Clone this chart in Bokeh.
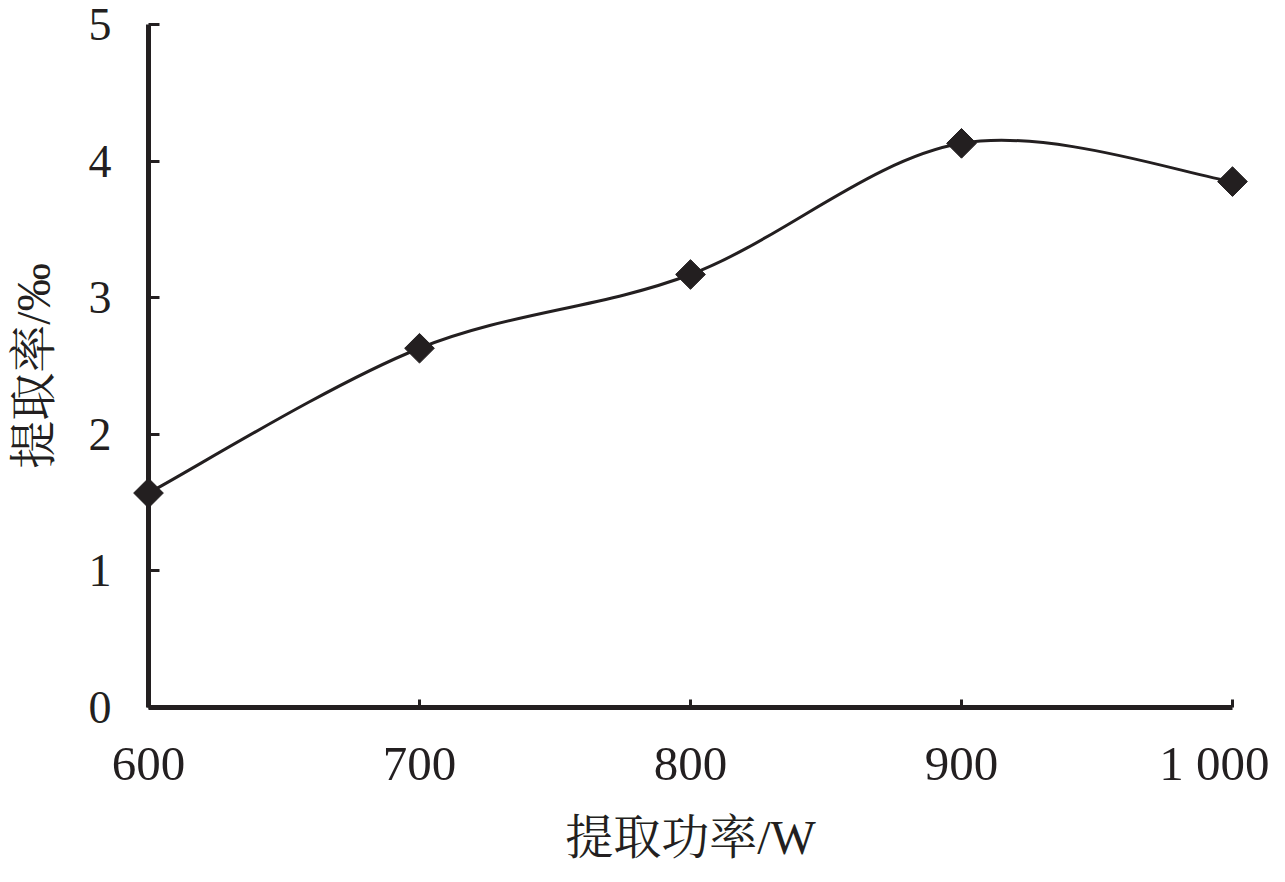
import numpy as np
from bokeh.plotting import figure
from bokeh.models import Range1d, FixedTicker, ColumnDataSource
from bokeh.embed import file_html
from bokeh.resources import INLINE

power = [600, 700, 800, 900, 1000]
rate = [1.57, 2.63, 3.17, 4.13, 3.85]
x_tick_labels = {600: "600", 700: "700", 800: "800", 900: "900", 1000: "1 000"}
y_ticks = [0, 1, 2, 3, 4, 5]

SERIF = "Liberation Serif, 'Times New Roman', 'Noto Serif CJK SC', 'Noto Sans CJK SC', serif"

p = figure(width=1269, height=866, output_backend="svg", toolbar_location=None,
           x_range=Range1d(600, 1000), y_range=Range1d(0, 5),
           min_border_left=148, min_border_right=37, min_border_top=24, min_border_bottom=159)
p.outline_line_color = None
p.grid.visible = False
p.background_fill_color = "white"
p.border_fill_color = "white"

# Catmull-Rom (smooth line) segments computed from the data points
px = np.array(power, dtype=float)
py = np.array(rate, dtype=float)
n = len(px)
x0s, y0s, x1s, y1s, cx0s, cy0s, cx1s, cy1s = [], [], [], [], [], [], [], []
for i in range(n - 1):
    p0 = (px[max(i - 1, 0)], py[max(i - 1, 0)])
    p1 = (px[i], py[i])
    p2 = (px[i + 1], py[i + 1])
    p3 = (px[min(i + 2, n - 1)], py[min(i + 2, n - 1)])
    x0s.append(p1[0]); y0s.append(p1[1])
    x1s.append(p2[0]); y1s.append(p2[1])
    cx0s.append(p1[0] + (p2[0] - p0[0]) / 6); cy0s.append(p1[1] + (p2[1] - p0[1]) / 6)
    cx1s.append(p2[0] - (p3[0] - p1[0]) / 6); cy1s.append(p2[1] - (p3[1] - p1[1]) / 6)
seg = ColumnDataSource(dict(x0=x0s, y0=y0s, x1=x1s, y1=y1s, cx0=cx0s, cy0=cy0s, cx1=cx1s, cy1=cy1s))
p.bezier("x0", "y0", "x1", "y1", "cx0", "cy0", "cx1", "cy1", source=seg,
         line_color="#231f20", line_width=3)

pts = ColumnDataSource(dict(x=power, y=rate))
r = p.scatter("x", "y", source=pts, marker="square", angle=np.pi / 4, size=21,
              fill_color="#231f20", line_color="#231f20", level="overlay")

for ax in (p.xaxis[0], p.yaxis[0]):
    ax.axis_line_width = 5
    ax.axis_line_color = "#231f20"
    ax.major_tick_line_width = 3
    ax.major_tick_line_color = "#231f20"
    ax.minor_tick_line_color = None
    ax.major_tick_out = 0
    ax.major_label_text_font = SERIF
    ax.major_label_text_color = "#231f20"
    ax.axis_label_text_font = SERIF
    ax.axis_label_text_font_size = "48px"
    ax.axis_label_text_font_style = "normal"
    ax.axis_label_text_color = "#231f20"

p.xaxis.major_label_text_font_size = "49px"
p.yaxis.major_label_text_font_size = "46px"

p.xaxis.ticker = FixedTicker(ticks=power)
p.xaxis.major_label_overrides = x_tick_labels
p.xaxis.major_tick_in = 8
p.xaxis.major_label_standoff = 28
p.xaxis.axis_label = "提取功率/W"
p.xaxis.axis_label_standoff = 17

p.yaxis.ticker = FixedTicker(ticks=y_ticks)
p.yaxis.major_tick_in = 11
p.yaxis.major_label_standoff = 37
p.yaxis.axis_label = "提取率/‰"
p.yaxis.axis_label_standoff = 26

open("out.html", "w").write(file_html(p, INLINE))
